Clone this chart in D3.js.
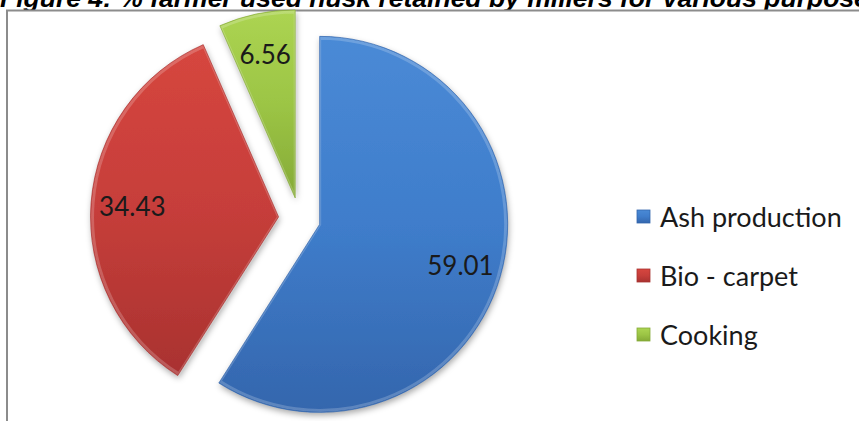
<!DOCTYPE html>
<html>
<head>
<meta charset="utf-8">
<script src="https://cdn.jsdelivr.net/npm/d3@7"></script>
<style>
  html, body { margin: 0; padding: 0; background: #fff; }
  svg { display: block; }
</style>
</head>
<body>
<svg id="chart" width="859" height="421"></svg>
<script>
// Share of farmers by use of husk retained by millers
const categories = ["Ash production", "Bio - carpet", "Cooking"];
const values = [59.01, 34.43, 6.56];
const titleText = "Figure 4: % farmer used husk retained by millers for various purpose";

// slice palette: [light, base, dark]
const palette = [
  ["#4a8ad6", "#3f7dcb", "#3466ad"],
  ["#d6463f", "#c63e3a", "#a93230"],
  ["#acd452", "#9cc545", "#85aa37"]
];

const svg = d3.select("#chart");
const defs = svg.append("defs");

// vertical shading for each slice
palette.forEach((c, i) => {
  const g = defs.append("linearGradient")
    .attr("id", "grad" + i).attr("x1", 0).attr("y1", 0).attr("x2", 0).attr("y2", 1);
  g.append("stop").attr("offset", "0%").attr("stop-color", c[0]);
  g.append("stop").attr("offset", "50%").attr("stop-color", c[1]);
  g.append("stop").attr("offset", "100%").attr("stop-color", c[2]);
});

// soft shadow under the slices
const shadow = defs.append("filter").attr("id", "shadow")
  .attr("x", "-20%").attr("y", "-20%").attr("width", "140%").attr("height", "140%");
shadow.append("feDropShadow").attr("dx", 1).attr("dy", 3).attr("stdDeviation", 3)
  .attr("flood-color", "#000").attr("flood-opacity", 0.35);

// title (runs past the top and right of the page)
svg.append("text")
  .attr("x", 0).attr("y", 7)
  .attr("font-family", "Liberation Sans, Arial, sans-serif")
  .attr("font-size", 26.5).attr("font-weight", "bold").attr("font-style", "italic")
  .attr("fill", "#000")
  .text(titleText);

// chart frame
svg.append("rect")
  .attr("x", 7).attr("y", 10.5).attr("width", 900).attr("height", 500)
  .attr("fill", "#fff").attr("stroke", "#8c8c8c").attr("stroke-width", 2);

const cx = 299.5, cy = 218.5, radius = 188, explode = 21;

const pie = d3.pie().sort(null).value(d => d);
const arcs = pie(values);
const arc = d3.arc().innerRadius(0).outerRadius(radius);
const bevel = d3.arc().innerRadius(0).outerRadius(radius - 2);

const plot = svg.append("g").attr("transform", `translate(${cx},${cy})`);

const slices = plot.selectAll("g.slice").data(arcs).join("g")
  .attr("class", "slice")
  .attr("transform", d => {
    const a = (d.startAngle + d.endAngle) / 2;
    return `translate(${Math.sin(a) * explode},${-Math.cos(a) * explode})`;
  });

slices.append("path")
  .attr("d", arc)
  .attr("fill", (d, i) => `url(#grad${i})`)
  .attr("filter", "url(#shadow)");

// thin highlight and dark rim to suggest the bevelled edge
slices.append("path")
  .attr("d", bevel)
  .attr("fill", "none")
  .attr("stroke", "#ffffff").attr("stroke-opacity", 0.2).attr("stroke-width", 3);
slices.append("path")
  .attr("d", arc)
  .attr("fill", "none")
  .attr("stroke", (d, i) => palette[i][2]).attr("stroke-opacity", 0.7).attr("stroke-width", 1);

// value labels
const fmt = d3.format(".2f");
slices.append("text")
  .attr("x", d => Math.sin((d.startAngle + d.endAngle) / 2) * radius * 0.78)
  .attr("y", d => -Math.cos((d.startAngle + d.endAngle) / 2) * radius * 0.78)
  .attr("text-anchor", "middle").attr("dominant-baseline", "central")
  .attr("font-family", "Lato, sans-serif").attr("font-size", 26)
  .attr("fill", "#1a1a1a")
  .text(d => fmt(d.data));

// legend
const legend = svg.append("g").attr("transform", "translate(637,216)");
const items = legend.selectAll("g").data(categories).join("g")
  .attr("transform", (d, i) => `translate(0,${i * 59})`);
items.append("rect")
  .attr("x", 0).attr("y", -6).attr("width", 13).attr("height", 13)
  .attr("fill", (d, i) => `url(#grad${i})`)
  .attr("stroke", (d, i) => palette[i][2]).attr("stroke-width", 0.8);
items.append("text")
  .attr("x", 23).attr("y", 0)
  .attr("dominant-baseline", "central")
  .attr("font-family", "Lato, sans-serif").attr("font-size", 27)
  .attr("fill", "#1a1a1a")
  .text(d => d);
</script>
</body>
</html>
